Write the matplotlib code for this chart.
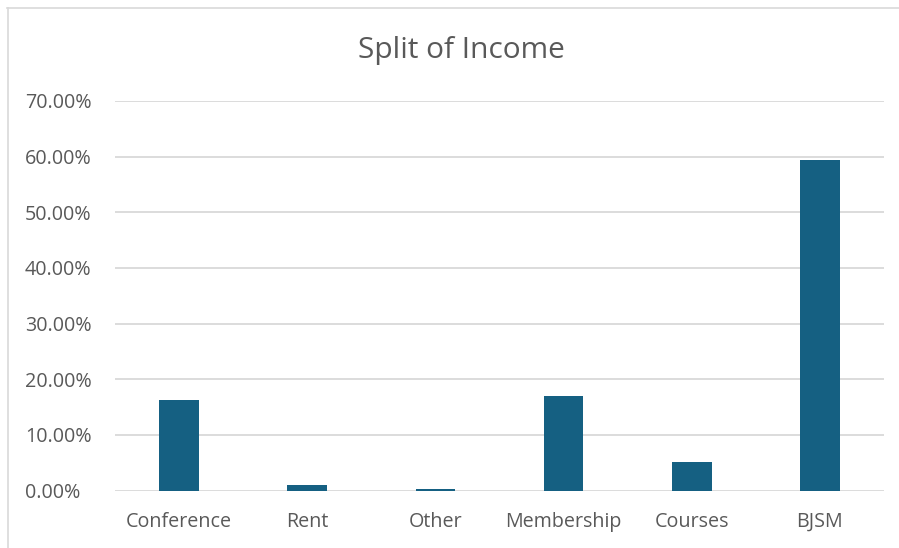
import matplotlib
matplotlib.use("Agg")
import matplotlib.pyplot as plt
from matplotlib.ticker import PercentFormatter
from matplotlib.lines import Line2D
import matplotlib.transforms as mtransforms

categories = ["Conference", "Rent", "Other", "Membership", "Courses", "BJSM"]
values = [0.162, 0.010, 0.003, 0.170, 0.051, 0.594]
yticks = [0.0, 0.1, 0.2, 0.3, 0.4, 0.5, 0.6, 0.7]

plt.rcParams['font.family'] = ['Open Sans', 'DejaVu Sans']
text_color = "#595959"
grid_color = "#D9D9D9"
bar_color = "#156082"

fig = plt.figure(figsize=(8.99, 5.48), dpi=100)
ax = fig.add_axes([115/899, 1-490.5/548, (884-115)/899, (490.5-101)/548])

x = list(range(len(categories)))
ax.bar(x, values, width=0.31, color=bar_color, zorder=3)
ax.set_xlim(-0.5, len(categories)-0.5)
ax.set_ylim(0, 0.7)
ax.set_yticks(yticks)
ax.yaxis.set_major_formatter(PercentFormatter(xmax=1, decimals=2))
ax.set_xticks(x)
ax.set_xticklabels(categories)
ax.grid(axis='y', color=grid_color, linewidth=1.3, zorder=0)
for s in ax.spines.values():
    s.set_visible(False)
ax.tick_params(axis='both', length=0, labelsize=14.2, colors=text_color)
ax.tick_params(axis='x', pad=15.5)

fig.canvas.draw()
offset = mtransforms.ScaledTranslation(-(115-25)/100, 0, fig.dpi_scale_trans)
for lab in ax.get_yticklabels():
    lab.set_transform(ax.get_yaxis_transform() + offset)
    lab.set_horizontalalignment('left')
    lab.set_x(0)

fig.text(461/899, 1-47/548, "Split of Income", ha='center', va='center_baseline',
         fontsize=21.5, color=text_color)

fig.add_artist(Line2D([7/899, 1], [1-7.5/548, 1-7.5/548], color=grid_color, linewidth=1.2, transform=fig.transFigure))
fig.add_artist(Line2D([7.5/899, 7.5/899], [0, 1-7.5/548], color=grid_color, linewidth=1.2, transform=fig.transFigure))

fig.savefig("out.png", dpi=100)
